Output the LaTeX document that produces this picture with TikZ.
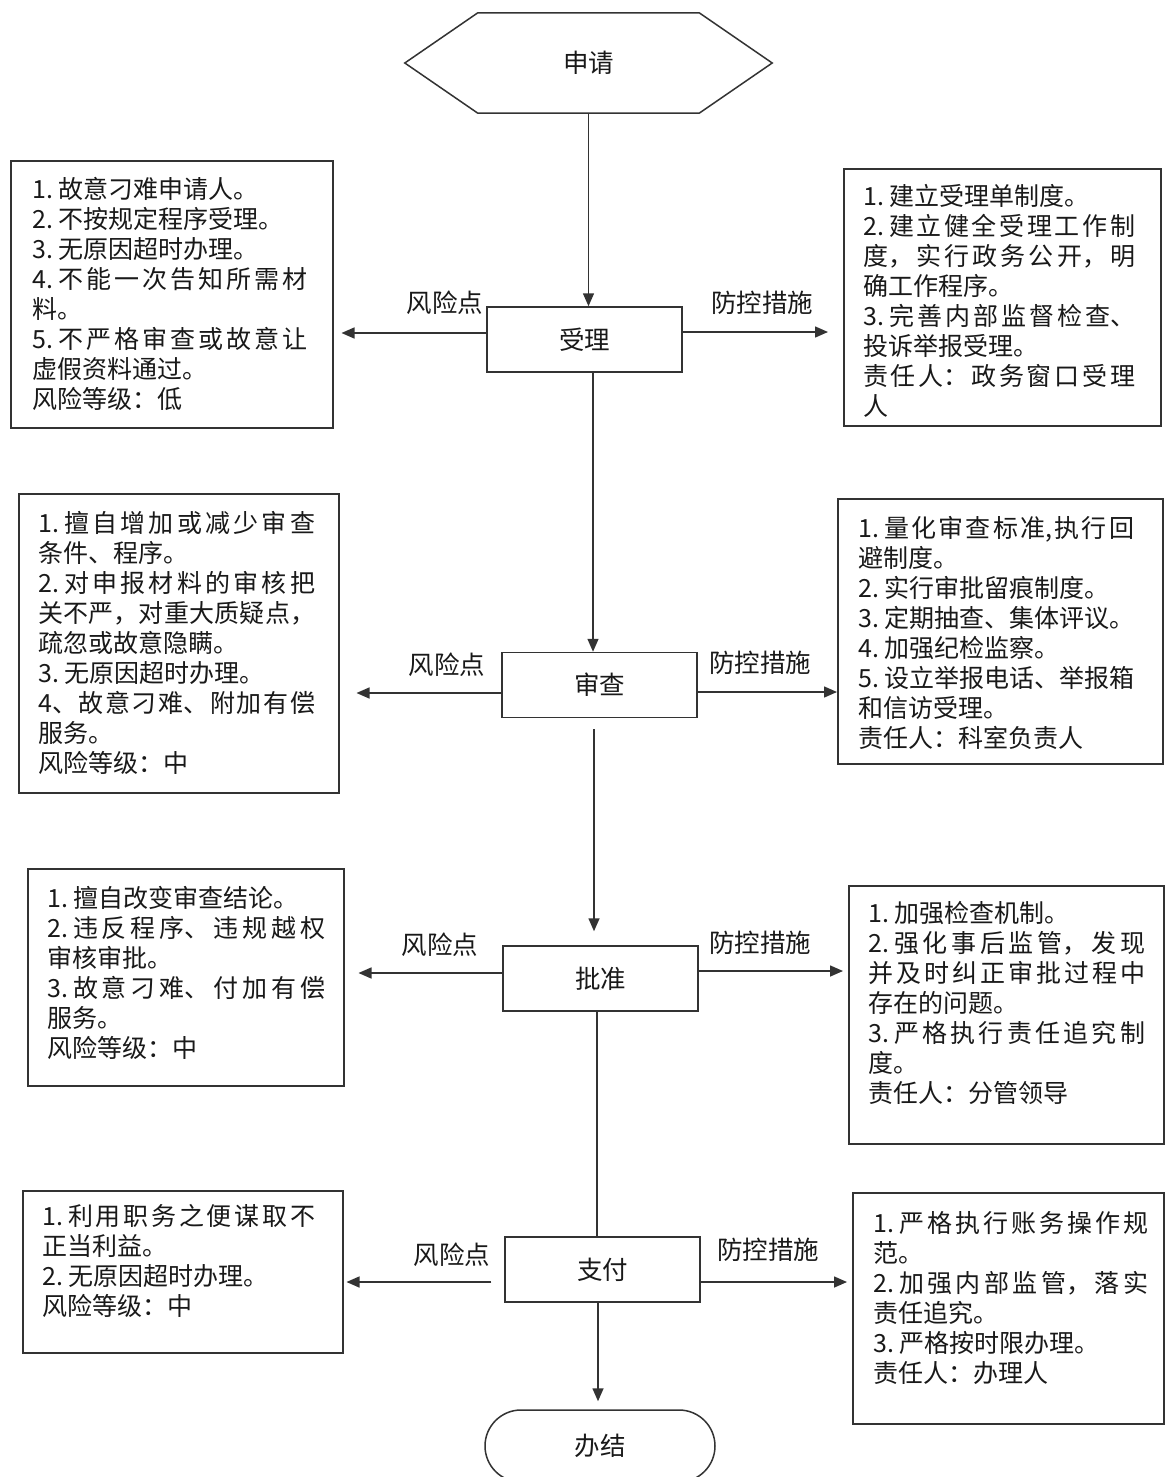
\documentclass[tikz,border=0pt]{standalone}
\usepackage{fontspec}
\newfontfamily\cjk{Noto Sans CJK SC}
\usetikzlibrary{arrows.meta,shapes.misc,calc}
\XeTeXlinebreaklocale "zh"
\XeTeXlinebreakskip=0pt plus 1pt
\newcommand\bxfont{\cjk\fontsize{25}{30}\selectfont\parindent=0pt\relax\tolerance=10000\relax\hbadness=10000\relax\emergencystretch=0pt\relax}
\newcommand\lbfont{\cjk\fontsize{25.5}{30}\selectfont}
\newcommand\gp{\kern5pt\relax}
\tikzset{
  frm/.style={draw=black!80, line width=1.5pt, inner sep=0pt, anchor=north west},
  txt/.style={anchor=north west, inner sep=0pt, text width=#1, align=justify, font=\bxfont, text=black!90},
  proc/.style={draw=black!80, line width=1.5pt, minimum width=195pt, minimum height=65pt, inner sep=0pt, font=\lbfont, text=black!90},
  lab/.style={font=\lbfont, inner sep=0pt, text=black!90},
  arr/.style={draw=black!80, line width=1.5pt, -{Triangle[length=13pt,width=11pt]}},
  ln/.style={draw=black!80, line width=1.5pt},
}
\begin{document}
\begin{tikzpicture}[x=1pt,y=-1pt]
\fill[white] (0,0) rectangle (1167,1477);
\useasboundingbox (0,0) rectangle (1167,1477);

% start hexagon
\node[minimum width=367pt, minimum height=100pt, inner sep=0pt, font=\lbfont, text=black!90] (sq) at (588.5,63) {申请};
\draw[ln] (sq.west) -- ($(sq.north west)+(73,0)$) -- ($(sq.north east)+(-73,0)$) -- (sq.east)
  -- ($(sq.south east)+(-73,0)$) -- ($(sq.south west)+(73,0)$) -- cycle;

% process boxes
\node[proc] (sl) at (584.5,339.5) {受理};
\node[proc] (sc) at (599.5,685) {审查};
\node[proc] (pz) at (600.5,978.5) {批准};
\node[proc] (zf) at (602.5,1269.5) {支付};
\node[draw=black!80, line width=1.5pt, rounded rectangle, minimum width=230pt, minimum height=72pt, inner sep=0pt, font=\lbfont, text=black!90] (bj) at (600,1446) {办结};

% frames
\node[frm, minimum width=322pt, minimum height=267pt] (r1) at (10,160) {};
\node[frm, minimum width=317pt, minimum height=257pt] (m1) at (843,168) {};
\node[frm, minimum width=320pt, minimum height=299pt] (r2) at (18,493) {};
\node[frm, minimum width=325pt, minimum height=265pt] (m2) at (837,498) {};
\node[frm, minimum width=316pt, minimum height=217pt] (r3) at (27,868) {};
\node[frm, minimum width=315pt, minimum height=258pt] (m3) at (848,885) {};
\node[frm, minimum width=320pt, minimum height=162pt] (r4) at (22,1190) {};
\node[frm, minimum width=311pt, minimum height=231pt] (m4) at (852,1192) {};

% texts
\node[txt=275pt] (t1) at (32,177) {1.\gp 故意刁难申请人。\par
2.\gp 不按规定程序受理。\par
3.\gp 无原因超时办理。\par
4.\gp 不能一次告知所需材\linebreak 料。\par
5.\gp 不严格审查或故意让\linebreak 虚假资料通过。\par
风险等级：低};

\node[txt=272pt] (u1) at (863,184) {1.\gp 建立受理单制度。\par
2.\gp 建立健全受理工作制\linebreak 度，实行政务公开，明\linebreak 确工作程序。\par
3.\gp 完善内部监督检查、\linebreak 投诉举报受理。\par
责任人：政务窗口受理\linebreak 人};

\node[txt=277pt] (t2) at (38,511) {1.\gp 擅自增加或减少审查\linebreak 条件、程序。\par
2.\gp 对申报材料的审核把\linebreak 关不严，对重大质疑点，\linebreak 疏忽或故意隐瞒。\par
3.\gp 无原因超时办理。\par
4、故意刁难、附加有偿\linebreak 服务。\par
风险等级：中};

\node[txt=276pt] (u2) at (858,516) {1.\gp 量化审查标准,执行回\linebreak 避制度。\par
2.\gp 实行审批留痕制度。\par
3.\gp 定期抽查、集体评议。\par
4.\gp 加强纪检监察。\par
5.\gp 设立举报电话、举报箱\linebreak 和信访受理。\par
责任人：科室负责人};

\node[txt=278pt] (t3) at (47,886) {1.\gp 擅自改变审查结论。\par
2.\gp 违反程序、违规越权\linebreak 审核审批。\par
3.\gp 故意刁难、付加有偿\linebreak 服务。\par
风险等级：中};

\node[txt=277pt] (u3) at (868,901) {1.\gp 加强检查机制。\par
2.\gp 强化事后监管，发现\linebreak 并及时纠正审批过程中\linebreak 存在的问题。\par
3.\gp 严格执行责任追究制\linebreak 度。\par
责任人：分管领导};

\node[txt=273pt] (t4) at (42,1204) {1.\gp 利用职务之便谋取不\linebreak 正当利益。\par
2.\gp 无原因超时办理。\par
风险等级：中};

\node[txt=275pt] (u4) at (873,1211) {1.\gp 严格执行账务操作规\linebreak 范。\par
2.\gp 加强内部监管，落实\linebreak 责任追究。\par
3.\gp 严格按时限办理。\par
责任人：办理人};

% labels
\node[lab] (f1) at (445,303) {风险点};
\node[lab] (c1) at (762,303) {防控措施};
\node[lab] (f2) at (447,665) {风险点};
\node[lab] (c2) at (760,663) {防控措施};
\node[lab] (f3) at (440,945) {风险点};
\node[lab] (c3) at (760,943) {防控措施};
\node[lab] (f4) at (452,1255) {风险点};
\node[lab] (c4) at (768,1250) {防控措施};

% vertical flow
\draw[arr] (sq.south) -- (sq.south |- sl.north);
\draw[arr] (sl.south -| 593,0) -- (sc.north -| 593,0);
\draw[arr, shorten <=11pt, shorten >=14pt] (sc.south -| 594,0) -- (pz.north -| 594,0);
\draw[ln] (pz.south -| 597,0) -- (zf.north -| 597,0);
\draw[arr, shorten >=8pt] (zf.south -| 598,0) -- (bj.north -| 598,0);

% horizontal arrows
\draw[arr, shorten >=8pt] (sl.west |- 0,333) -- (r1.east |- 0,333);
\draw[arr, shorten >=15pt] (sl.east |- 0,332) -- (m1.west |- 0,332);
\draw[arr, shorten >=17pt] (sc.west |- 0,693) -- (r2.east |- 0,693);
\draw[arr] (sc.east |- 0,692) -- (m2.west |- 0,692);
\draw[arr, shorten >=14pt] (pz.west |- 0,973) -- (r3.east |- 0,973);
\draw[arr, shorten >=5pt] (pz.east |- 0,971) -- (m3.west |- 0,971);
\draw[arr, shorten <=13pt, shorten >=3pt] (zf.west |- 0,1282) -- (r4.east |- 0,1282);
\draw[arr, shorten >=5pt] (zf.east |- 0,1282) -- (m4.west |- 0,1282);
\end{tikzpicture}
\end{document}
